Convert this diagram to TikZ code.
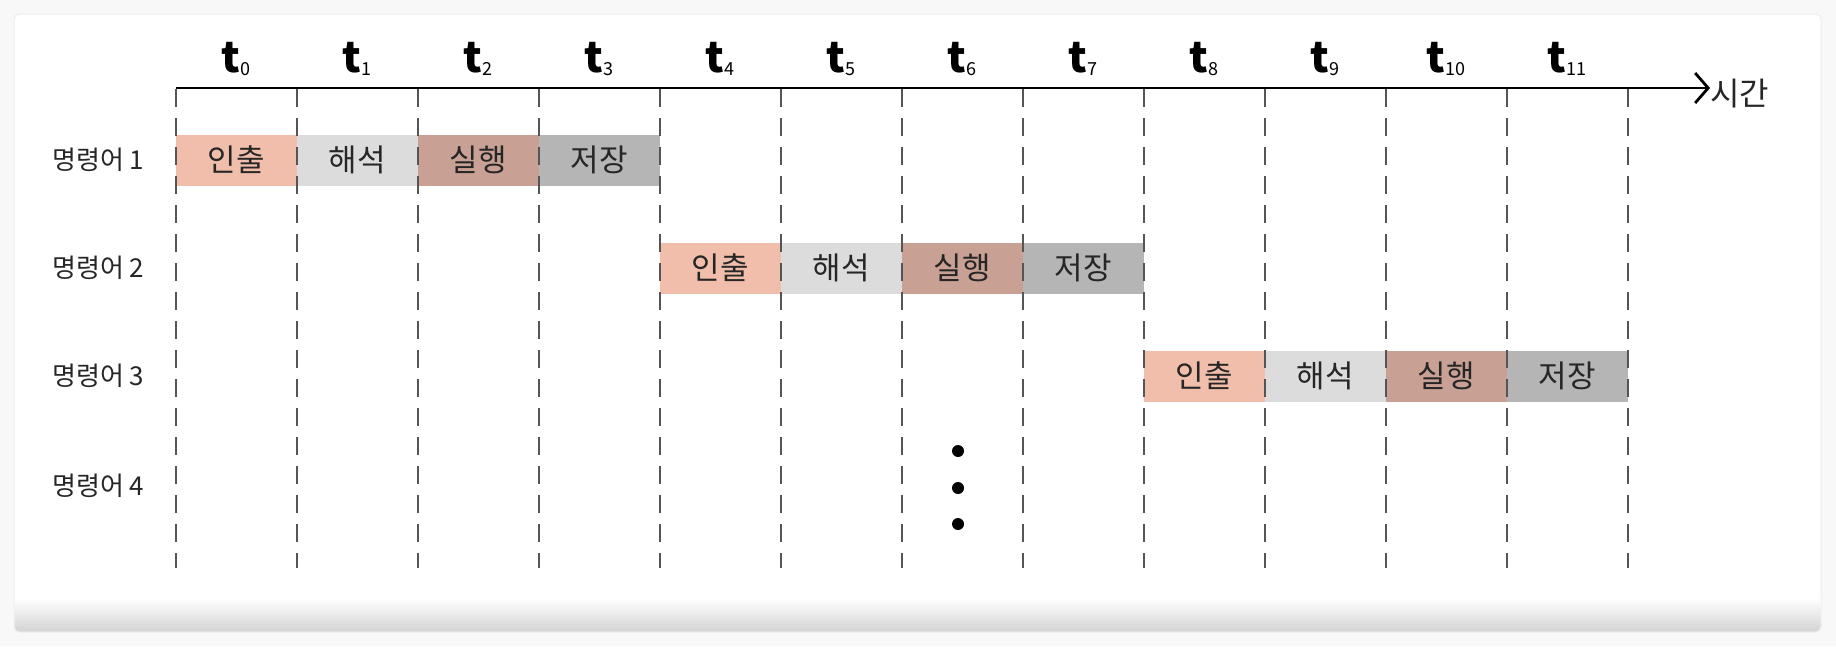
\documentclass[tikz,border=0pt]{standalone}
\usepackage{fontspec}
\setmainfont{Noto Sans CJK KR}
\usetikzlibrary{arrows.meta}
\definecolor{fetchc}{HTML}{F0BEAA}
\definecolor{decodec}{HTML}{DCDCDC}
\definecolor{execc}{HTML}{C9A194}
\definecolor{storec}{HTML}{B5B5B5}
\definecolor{gridc}{HTML}{555555}
\definecolor{txtc}{HTML}{262626}
\definecolor{pagebg}{HTML}{F8F8F8}
\newcommand{\tsub}[1]{{\bfseries t}\raisebox{-3pt}{\fontsize{18}{18}\selectfont #1}}
\tikzset{
  stagebox/.style={minimum width=121pt, minimum height=51pt, inner sep=0pt, outer sep=0pt,
    font=\fontsize{31}{31}\selectfont, text=txtc},
  rowlabel/.style={anchor=west, font=\fontsize{26}{26}\selectfont, text=txtc, inner sep=0pt},
  tlabel/.style={font=\fontsize{42}{42}\selectfont, text=black, inner sep=0pt, anchor=base},
  gridline/.style={draw=gridc, line width=2.2pt, dash pattern=on 18pt off 11pt},
  axisline/.style={line width=2.8pt, -{Straight Barb[length=13pt,width=30pt,line width=2.8pt]}},
  dotmark/.style={fill=black},
}
\begin{document}
\begin{tikzpicture}[x=1pt,y=-1pt]
\useasboundingbox (0,0) rectangle (1836,646);
\fill[pagebg] (0,0) rectangle (1836,646);
% card
\draw[draw=black!7, line width=1pt, fill=white, rounded corners=5pt] (14,14) rectangle (1821,632);
\shade[top color=white, bottom color=black!17, rounded corners=5pt] (14.5,598) rectangle (1820.5,631.5);
% stage boxes
\foreach \r in {1,2,3}{
  \pgfmathsetmacro{\yy}{160+108*(\r-1)}
  \pgfmathsetmacro{\cc}{4*(\r-1)}
  \node[stagebox, fill=fetchc]  (b\r-1) at ({175.6+121*(\cc+0)+60.5},\yy) {인출};
  \node[stagebox, fill=decodec] (b\r-2) at ({175.6+121*(\cc+1)+60.5},\yy) {해석};
  \node[stagebox, fill=execc]   (b\r-3) at ({175.6+121*(\cc+2)+60.5},\yy) {실행};
  \node[stagebox, fill=storec]  (b\r-4) at ({175.6+121*(\cc+3)+60.5},\yy) {저장};
}
% dashed grid
\foreach \k in {0,...,12}{
  \draw[gridline] ({175.6+121*\k},89) -- ({175.6+121*\k},568);
}
% time labels
\foreach \k in {0,...,11}{
  \node[tlabel] (t\k) at ({236.1+121*\k},72) {\tsub{\k}};
}
% axis
\coordinate (axstart) at (175.6,88);
\node[anchor=west, inner sep=0pt, font=\fontsize{32}{32}\selectfont, text=txtc] (timelbl) at (1710,94) {시간};
\draw[axisline] (axstart) -- (axstart -| timelbl.west);
% row labels
\node[rowlabel] (r1) at (52,160) {명령어 1};
\node[rowlabel] (r2) at (52,268) {명령어 2};
\node[rowlabel] (r3) at (52,376) {명령어 3};
\node[rowlabel] (r4) at (52,486) {명령어 4};
% dots
\fill[dotmark] (958,451) circle (6);
\fill[dotmark] (958,488) circle (6);
\fill[dotmark] (958,524) circle (6);
\end{tikzpicture}
\end{document}
